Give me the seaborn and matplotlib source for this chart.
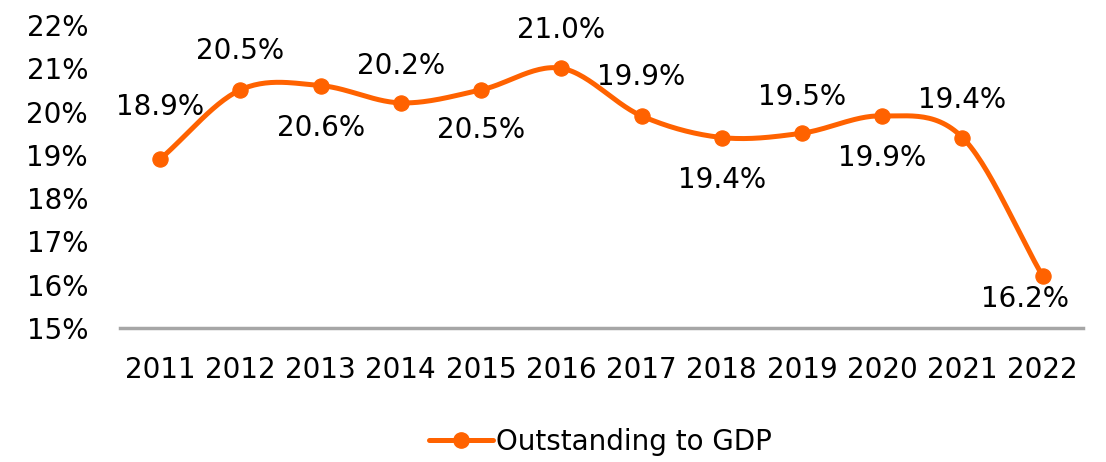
import matplotlib
matplotlib.use("Agg")
import matplotlib.pyplot as plt
import matplotlib.lines as mlines
import numpy as np
import pandas as pd
import seaborn as sns

years = ["2011", "2012", "2013", "2014", "2015", "2016",
         "2017", "2018", "2019", "2020", "2021", "2022"]
outstanding = [18.9, 20.5, 20.6, 20.2, 20.5, 21.0,
               19.9, 19.4, 19.5, 19.9, 19.4, 16.2]
# data label offsets from the point, in pixels (dx, dy; positive dy = down)
label_dx = [0, 0, 0, 0, 0, 0, 0, 0, 0, 0, 0, -18]
label_dy = [-52, -39, 42, -37, 40, -38, -39, 42, -36, 42, -38, 23]

orange = "#FF6200"

sns.set_style("white")
plt.rcParams["font.family"] = ["DejaVu Sans"]
plt.rcParams["text.color"] = "#000000"

data = pd.DataFrame({"idx": np.arange(len(years)), "value": outstanding})


# Excel-like smoothed line (Catmull-Rom through the data points)
def smooth(x, y, steps=30):
    px = np.concatenate([[2 * x[0] - x[1]], x, [2 * x[-1] - x[-2]]])
    py = np.concatenate([[2 * y[0] - y[1]], y, [2 * y[-1] - y[-2]]])
    xs, ys = [], []
    t = np.linspace(0, 1, steps)
    for i in range(1, len(px) - 2):
        p0, p1, p2, p3 = py[i - 1], py[i], py[i + 1], py[i + 2]
        q0, q1, q2, q3 = px[i - 1], px[i], px[i + 1], px[i + 2]
        ys.append(0.5 * (2 * p1 + (-p0 + p2) * t + (2 * p0 - 5 * p1 + 4 * p2 - p3) * t ** 2
                         + (-p0 + 3 * p1 - 3 * p2 + p3) * t ** 3))
        xs.append(0.5 * (2 * q1 + (-q0 + q2) * t + (2 * q0 - 5 * q1 + 4 * q2 - q3) * t ** 2
                         + (-q0 + 3 * q1 - 3 * q2 + q3) * t ** 3))
    return np.concatenate(xs), np.concatenate(ys)


sx, sy = smooth(data["idx"].to_numpy(dtype=float), data["value"].to_numpy())
curve = pd.DataFrame({"x": sx, "y": sy})

fig = plt.figure(figsize=(11.06, 4.62), dpi=100)
ax = fig.add_axes([0.1085, 0.29, 0.8705, 0.656])

sns.lineplot(data=curve, x="x", y="y", color=orange, linewidth=3.6,
             sort=False, ax=ax, legend=False)
sns.scatterplot(data=data, x="idx", y="value", color=orange, s=120,
                edgecolor=orange, zorder=3, ax=ax, legend=False)

# offsets in pixels -> points (dpi 100)
for i, v in enumerate(outstanding):
    ax.annotate(f"{v:.1f}%", (i, v),
                xytext=(label_dx[i] * 0.72, -label_dy[i] * 0.72),
                textcoords="offset points", ha="center", va="center",
                fontsize=20, color="#000000", clip_on=False)

ax.set_xlim(-0.5, len(years) - 0.5)
ax.set_ylim(15, 22)
ax.set_yticks(range(15, 23))
ax.set_yticklabels([f"{t}%" for t in range(15, 23)])
ax.set_xticks(range(len(years)))
ax.set_xticklabels(years)
ax.tick_params(axis="both", labelsize=20, length=0, colors="#000000")
ax.tick_params(axis="y", pad=23)
ax.tick_params(axis="x", pad=20)
ax.set_xlabel("")
ax.set_ylabel("")

for s in ["top", "right", "left"]:
    ax.spines[s].set_visible(False)
ax.spines["bottom"].set_color("#A6A6A6")
ax.spines["bottom"].set_linewidth(2.5)

handle = mlines.Line2D([], [], color=orange, linewidth=3.6, marker="o",
                       markersize=11)
leg = fig.legend(handles=[handle], labels=["Outstanding to GDP"], loc="center",
                 bbox_to_anchor=(0.543, 0.043), frameon=False, fontsize=20,
                 handlelength=2.3, handletextpad=0.1)
for t in leg.get_texts():
    t.set_color("#000000")

fig.savefig("out.png", dpi=100)
